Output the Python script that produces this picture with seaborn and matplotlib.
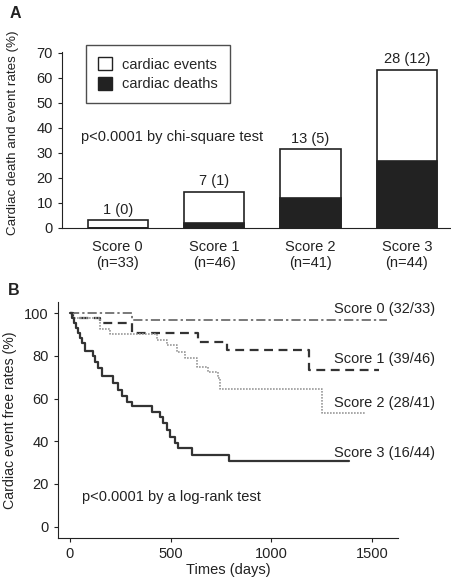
import numpy as np
import pandas as pd
import matplotlib
matplotlib.use("Agg")
import matplotlib.pyplot as plt
import seaborn as sns
from matplotlib.patches import Patch

# panel A data
scores = ["Score 0", "Score 1", "Score 2", "Score 3"]
n_patients = [33, 46, 41, 44]
event_counts = [1, 7, 13, 28]
death_counts = [0, 1, 5, 12]
event_rates = [3.0, 14.5, 31.4, 63.3]
death_rates = [0.0, 2.0, 12.1, 26.8]

# panel B data (Kaplan-Meier steps: time at which value starts)
s0_t = [0, 310, 1575]
s0_v = [100, 97.0, 97.0]
s1_t = [0, 15, 150, 306, 635, 780, 1187, 1536]
s1_v = [100, 97.8, 95.4, 90.7, 86.7, 82.7, 73.3, 73.3]
s2_t = [0, 15, 149, 199, 430, 480, 530, 571, 629, 687, 737, 745, 1250, 1465]
s2_v = [100, 97.6, 92.7, 90.2, 87.5, 85.2, 82.0, 78.9, 75.0, 72.7, 69.6, 64.6, 53.1, 53.1]
s3_t = [0, 12, 22, 32, 41, 50, 58, 74, 116, 124, 141, 157, 215, 240, 257, 281,
        306, 406, 447, 464, 480, 497, 522, 538, 604, 787, 1385]
s3_v = [100, 97.7, 95.4, 93.1, 90.8, 88.5, 86.2, 82.3, 79.8, 77.4, 74.3, 70.4,
        67.3, 64.1, 61.0, 58.6, 56.3, 53.9, 51.6, 48.4, 45.3, 42.2, 39.1, 36.7,
        33.6, 30.5, 30.5]
curve_labels = ["Score 0 (32/33)", "Score 1 (39/46)", "Score 2 (28/41)", "Score 3 (16/44)"]
label_y = [102, 78.6, 58, 34.5]

sns.set_style("ticks")
plt.rcParams['font.family'] = ['Liberation Sans', 'DejaVu Sans']
ink = "#222222"
fs = 10.5

fig = plt.figure(figsize=(4.52, 5.8), dpi=100)

# ---------- panel A ----------
axA = fig.add_axes([0.137, 0.607, 0.859, 0.304])
df_a = pd.DataFrame({"score": scores, "events": event_rates, "deaths": death_rates})
sns.barplot(data=df_a, x="score", y="events", color="white", edgecolor=ink,
            linewidth=1.2, width=0.625, saturation=1, ax=axA)
sns.barplot(data=df_a, x="score", y="deaths", color=ink, edgecolor=ink,
            linewidth=1.2, width=0.625, saturation=1, ax=axA)
for i, (e, d) in enumerate(zip(event_counts, death_counts)):
    axA.text(i, event_rates[i] + 1.5, f"{e} ({d})", ha="center", va="bottom",
             fontsize=fs, color=ink)
axA.set_xlim(-0.58, 3.45)
axA.set_ylim(0, 70.5)
axA.set_yticks(range(0, 71, 10))
axA.set_xticks(range(4))
axA.set_xticklabels([f"{s}\n(n={n})" for s, n in zip(scores, n_patients)],
                    fontsize=fs, color=ink, linespacing=1.15)
axA.tick_params(axis="x", length=0, pad=9)
axA.tick_params(axis="y", labelsize=fs, colors=ink, length=3)
axA.set_xlabel("")
axA.set_ylabel("Cardiac death and event rates (%)", fontsize=9.6, color=ink)
axA.yaxis.set_label_coords(-0.11, 0.54)
sns.despine(ax=axA)
for sp in axA.spines.values():
    sp.set_color(ink)
axA.text(0.05, 36.4, "p<0.0001 by chi-square test", fontsize=fs, color=ink,
         va="center", transform=axA.get_yaxis_transform(), ha="left")
handles = [Patch(facecolor="white", edgecolor=ink, label="cardiac events"),
           Patch(facecolor=ink, edgecolor=ink, label="cardiac deaths")]
leg = axA.legend(handles=handles, loc="upper left", bbox_to_anchor=(0.062, 1.035),
                 borderaxespad=0, fontsize=fs, frameon=True, fancybox=False,
                 handlelength=1.0, handleheight=1.0, handletextpad=0.7,
                 borderpad=0.8, labelspacing=0.35)
leg.get_frame().set_edgecolor(ink)
leg.get_frame().set_linewidth(1.0)
fig.text(0.022, 0.99, "A", fontsize=11.5, fontweight="bold", va="top", color=ink)

# ---------- panel B ----------
axB = fig.add_axes([0.128, 0.072, 0.753, 0.408])
curves = [(s0_t, s0_v, (0, (6, 2, 1.5, 2)), "#555555", 1.1),
          (s1_t, s1_v, (0, (4, 2.5)), "#333333", 1.6),
          (s2_t, s2_v, (0, (1, 0.8)), "#999999", 1.2),
          (s3_t, s3_v, "-", "#333333", 1.6)]
for (t, v, ls, col, lw), lab in zip(curves, curve_labels):
    sns.lineplot(x=t, y=v, drawstyle="steps-post", estimator=None, sort=False,
                 color=col, linewidth=lw, linestyle=ls, ax=axB)
for lab, y in zip(curve_labels, label_y):
    axB.text(1813, y, lab, ha="right", va="center", fontsize=fs, color=ink,
             clip_on=False)
axB.text(60, 14, "p<0.0001 by a log-rank test", fontsize=fs, color=ink, va="center")
axB.set_xlim(-60, 1629)
axB.set_ylim(-5.5, 105.5)
axB.set_xticks([0, 500, 1000, 1500])
axB.set_yticks(range(0, 101, 20))
axB.tick_params(labelsize=fs, colors=ink, length=3)
axB.set_xlabel("Times (days)", fontsize=fs, color=ink, labelpad=1)
axB.set_ylabel("Cardiac event free rates (%)", fontsize=10.2, color=ink)
axB.yaxis.set_label_coords(-0.12, 0.5)
sns.despine(ax=axB)
for sp in axB.spines.values():
    sp.set_color(ink)
fig.text(0.018, 0.512, "B", fontsize=11.5, fontweight="bold", va="top", color=ink)

fig.savefig("out.png", dpi=100)
